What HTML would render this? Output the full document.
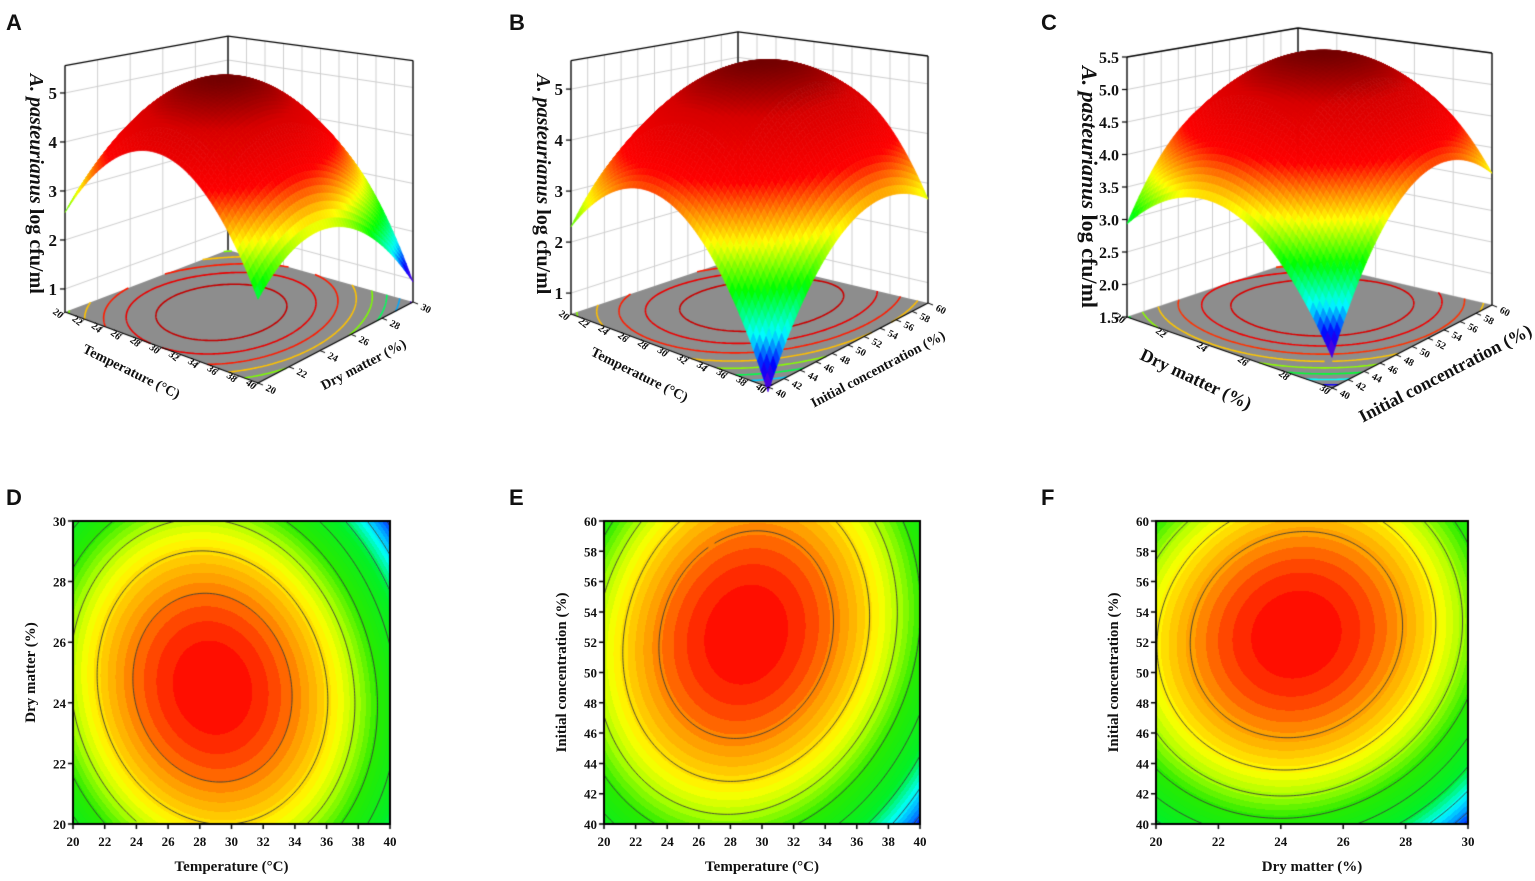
<!DOCTYPE html>
<html><head><meta charset="utf-8">
<style>
html,body{margin:0;padding:0;background:#fff;}
#wrap{position:relative;width:1535px;height:881px;overflow:hidden;}
canvas,svg{position:absolute;left:0;top:0;}
text{font-family:"Liberation Serif",serif;font-weight:bold;fill:#111;}
.lt{font-family:"Liberation Sans",sans-serif;font-size:22px;font-weight:bold;}
</style></head>
<body>
<div id="wrap">
<canvas id="cv" width="1535" height="881"></canvas>
<svg id="sv" width="1535" height="881">
<text class="lt" x="6" y="30">A</text>
<text class="lt" x="509" y="30">B</text>
<text class="lt" x="1041" y="30">C</text>
<text class="lt" x="6" y="505">D</text>
<text class="lt" x="509" y="505">E</text>
<text class="lt" x="1041" y="505">F</text>
</svg>
</div>
<script>
// ---- data: quadratic response-surface coefficients [b0, bU, bV, bUV, bUU, bVV] (coded units -1..1)
const coefTempDry = [5.355, -0.51, -0.296, -0.3, -2.0, -1.3];
const coefTempInit = [5.39, -0.5, 0.69, 0.4, -2.0, -1.3];
const coefDryInit = [5.46, -0.29, 0.62, 0.2, -1.2, -1.2];
const tempTicks = [20,22,24,26,28,30,32,34,36,38,40];
const dryTicks = [20,22,24,26,28,30];
const initTicks = [40,42,44,46,48,50,52,54,56,58,60];
const zTicksA = [1,2,3,4,5];
const zTicksB = [1,2,3,4,5];
const zTicksC = [1.5,2.0,2.5,3.0,3.5,4.0,4.5,5.0,5.5];
const levelsD = [4.9,4.35,3.8,3.25,2.7,2.15,1.6,1.05];
const levelsE = [4.9,4.3,3.7,3.1,2.5,1.9,1.3,0.7];
const levelsF = [5.0,4.6,4.2,3.8,3.4,3.0,2.6,2.2];

const cv=document.getElementById('cv'), ctx=cv.getContext('2d');
const sv=document.getElementById('sv'), NS='http://www.w3.org/2000/svg';
function f(c,u,v){return c[0]+c[1]*u+c[2]*v+c[3]*u*v+c[4]*u*u+c[5]*v*v;}
function mix(stops,t){t=Math.max(0,Math.min(1,t));for(let i=1;i<stops.length;i++){if(t<=stops[i][0]){const a=stops[i-1],b=stops[i],k=(t-a[0])/(b[0]-a[0]);return [0,1,2].map(j=>Math.round(a[1][j]+(b[1][j]-a[1][j])*k));}}return stops[stops.length-1][1];}
const cmap3=[[0,[110,0,210]],[0.08,[0,0,255]],[0.18,[0,255,255]],[0.32,[0,255,0]],[0.47,[255,255,0]],[0.56,[255,140,0]],[0.66,[255,0,0]],[0.86,[215,0,0]],[1,[115,0,0]]];
const cmap2=[[0,[0,30,255]],[0.06,[0,120,255]],[0.17,[0,255,255]],[0.3,[0,240,40]],[0.52,[40,235,0]],[0.63,[170,255,0]],[0.72,[255,255,0]],[0.86,[255,150,0]],[0.94,[255,60,0]],[1,[255,0,0]]];
const rgb=c=>'rgb('+c[0]+','+c[1]+','+c[2]+')';
function txt(x,y,s,size,name,opts){const t=document.createElementNS(NS,'text');


t.setAttribute('x',x);t.setAttribute('y',y);t.setAttribute('font-size',size);
if(opts&&opts.anchor)t.setAttribute('text-anchor',opts.anchor);
if(opts&&opts.rot!==undefined)t.setAttribute('transform','rotate('+opts.rot+' '+x+' '+y+')');
if(opts&&opts.html)t.innerHTML=s;else t.textContent=s;sv.appendChild(t);return t;}

function contour(fn,n,level,map,style,width){
 ctx.strokeStyle=style;ctx.lineWidth=width;ctx.beginPath();
 for(let i=0;i<n;i++)for(let j=0;j<n;j++){
  const a0=i/n,a1=(i+1)/n,b0=j/n,b1=(j+1)/n;
  const c=[[a0,b0,fn(a0,b0)],[a1,b0,fn(a1,b0)],[a1,b1,fn(a1,b1)],[a0,b1,fn(a0,b1)]];
  const pts=[];
  for(let k=0;k<4;k++){const p=c[k],q=c[(k+1)%4];if((p[2]-level)*(q[2]-level)<0){const t=(level-p[2])/(q[2]-p[2]);pts.push([p[0]+(q[0]-p[0])*t,p[1]+(q[1]-p[1])*t]);}}
  if(pts.length>=2){const A=map(pts[0][0],pts[0][1]),B=map(pts[1][0],pts[1][1]);ctx.moveTo(A[0],A[1]);ctx.lineTo(B[0],B[1]);}
 }
 ctx.stroke();
}

function draw3D(p){
 const fn=(a,b)=>f(p.coef,a*2-1,b*2-1);
 const bl=(a,b,k)=>(1-a)*(1-b)*p.c00[k]+a*(1-b)*p.c10[k]+(1-a)*b*p.c01[k]+a*b*p.c11[k];
 const sc=(a,b)=>(1-a)*(1-b)*p.s[0]+a*(1-b)*p.s[1]+(1-a)*b*p.s[2]+a*b*p.s[3];
 const P=(a,b,z)=>[bl(a,b,0),bl(a,b,1)-(z-p.zf)*sc(a,b)];
 const poly=(pts,fill,stroke,w)=>{ctx.beginPath();pts.forEach((q,i)=>i?ctx.lineTo(q[0],q[1]):ctx.moveTo(q[0],q[1]));ctx.closePath();if(fill){ctx.fillStyle=fill;ctx.fill();}if(stroke){ctx.strokeStyle=stroke;ctx.lineWidth=w;ctx.stroke();}};
 const line=(A,B,col,w)=>{ctx.beginPath();ctx.moveTo(A[0],A[1]);ctx.lineTo(B[0],B[1]);ctx.strokeStyle=col;ctx.lineWidth=w;ctx.stroke();};
 poly([P(0,0,p.zf),P(0,1,p.zf),P(0,1,p.zt),P(0,0,p.zt)],'#fff');
 poly([P(0,1,p.zf),P(1,1,p.zf),P(1,1,p.zt),P(0,1,p.zt)],'#fff');
 const uT=p.uTicks,vT=p.vTicks;
 vT.forEach((t,i)=>{const b=i/(vT.length-1);line(P(0,b,p.zf),P(0,b,p.zt),'#cfcfcf',1);});
 uT.forEach((t,i)=>{const a=i/(uT.length-1);line(P(a,1,p.zf),P(a,1,p.zt),'#cfcfcf',1);});
 p.zTicks.forEach(z=>{line(P(0,0,z),P(0,1,z),'#cfcfcf',1);line(P(0,1,z),P(1,1,z),'#cfcfcf',1);});
 poly([P(0,0,p.zf),P(1,0,p.zf),P(1,1,p.zf),P(0,1,p.zf)],'#8d8d8d');
 let zmin=1e9,zmax=-1e9;const N=56;
 for(let i=0;i<=N;i++)for(let j=0;j<=N;j++){const z=fn(i/N,j/N);zmin=Math.min(zmin,z);zmax=Math.max(zmax,z);}
 p.levels.forEach(L=>contour(fn,90,L,(a,b)=>P(a,b,p.zf),rgb(mix(cmap3,(L-zmin)/(zmax-zmin))),1.6));
 const k='#000';
 line(P(0,0,p.zf),P(0,0,p.zt),k,1.3);line(P(0,1,p.zf),P(0,1,p.zt),k,1.3);line(P(1,1,p.zf),P(1,1,p.zt),k,1.3);
 line(P(0,0,p.zt),P(0,1,p.zt),k,1.3);line(P(0,1,p.zt),P(1,1,p.zt),k,1.3);
 line(P(0,0,p.zf),P(1,0,p.zf),k,1.3);line(P(1,0,p.zf),P(1,1,p.zf),k,1.3);
 const quads=[];
 for(let i=0;i<N;i++)for(let j=0;j<N;j++){const a0=i/N,a1=(i+1)/N,b0=j/N,b1=(j+1)/N;
  const zs=[fn(a0,b0),fn(a1,b0),fn(a1,b1),fn(a0,b1)];
  quads.push({d:bl((a0+a1)/2,(b0+b1)/2,1),pts:[P(a0,b0,zs[0]),P(a1,b0,zs[1]),P(a1,b1,zs[2]),P(a0,b1,zs[3])],z:(zs[0]+zs[1]+zs[2]+zs[3])/4});}
 quads.sort((x,y)=>x.d-y.d);
 quads.forEach(q=>{const c=rgb(mix(cmap3,(q.z-zmin)/(zmax-zmin)));poly(q.pts,c,c,0.7);});
 p.zTicks.forEach(z=>{const q=P(0,0,z);line(q,[q[0]-5,q[1]],k,1.2);
  txt(q[0]-8,q[1]+6,p.zFmt(z),p.zSize,'z-tick-label',{anchor:'end'});});
 const ang=(A,B)=>Math.atan2(B[1]-A[1],B[0]-A[0])*180/Math.PI;
 const angU=ang(P(0,0,p.zf),P(1,0,p.zf)),angV=ang(P(1,0,p.zf),P(1,1,p.zf));
 uT.forEach((t,i)=>{const q=P(i/(uT.length-1),0,p.zf);line(q,[q[0]-4,q[1]+4],k,1);
  txt(q[0]-5,q[1]+7,String(t),p.fs,'x-tick-label',{anchor:'end',rot:angU+18});});
 vT.forEach((t,i)=>{const q=P(1,i/(vT.length-1),p.zf);line(q,[q[0]+5,q[1]+2],k,1);
  txt(q[0]+7,q[1]+7,String(t),p.fs,'y-tick-label',{anchor:'start',rot:angV+55});});
 const mU=P(0.5,0,p.zf),mV=P(1,0.5,p.zf);
 txt(mU[0]+p.tU[0],mU[1]+p.tU[1],p.uTitle,p.tfs,'x-axis-title',{anchor:'middle',rot:angU+6});
 txt(mV[0]+p.tV[0],mV[1]+p.tV[1],p.vTitle,p.tfs,'y-axis-title',{anchor:'middle',rot:angV});
 const zm=P(0,0,(p.zf+p.zt)/2);
 txt(p.zTitleX,zm[1]+p.zTitleDy,'<tspan font-style="italic">A. pasteurianus</tspan> log cfu/ml',p.zTitleSize,'z-axis-title',{anchor:'middle',rot:90,html:true});
}
const fmt0=z=>String(z), fmt1=z=>z.toFixed(1);
draw3D({coef:coefTempDry,c00:[65,312],c10:[258,383],c01:[228,250],c11:[413,302],s:[49,52,42.5,48],zf:0.53,zt:5.56,
 uTicks:tempTicks,vTicks:dryTicks,zTicks:zTicksA,zFmt:fmt0,zSize:17,levels:levelsD,fs:10,tfs:14,
 uTitle:'Temperature (°C)',vTitle:'Dry matter (%)',tU:[-32,28],tV:[30,26],zTitleX:30,zTitleDy:-5,zTitleSize:20});
draw3D({coef:coefTempInit,c00:[571,314],c10:[768,387],c01:[738,258],c11:[928,303],s:[51,54,45.5,49.7],zf:0.59,zt:5.56,
 uTicks:tempTicks,vTicks:initTicks,zTicks:zTicksB,zFmt:fmt0,zSize:17,levels:levelsE,fs:10,tfs:14,
 uTitle:'Temperature (°C)',vTitle:'Initial concentration (%)',tU:[-32,28],tV:[32,28],zTitleX:537,zTitleDy:-3,zTitleSize:20});
draw3D({coef:coefDryInit,c00:[1127,317],c10:[1332,388],c01:[1298,260],c11:[1492,305],s:[65,68,58,63],zf:1.5,zt:5.5,
 uTicks:dryTicks,vTicks:initTicks,zTicks:zTicksC,zFmt:fmt1,zSize:16,levels:levelsF,fs:10,tfs:18,
 uTitle:'Dry matter (%)',vTitle:'Initial concentration (%)',tU:[-36,32],tV:[36,32],zTitleX:1082,zTitleDy:0,zTitleSize:22});

function draw2D(p){
 const W=p.x1-p.x0,H=p.y1-p.y0;
 const fn=(a,b)=>f(p.coef,a*2-1,b*2-1);
 let zmin=1e9,zmax=-1e9;
 for(let i=0;i<=40;i++)for(let j=0;j<=40;j++){const z=fn(i/40,j/40);zmin=Math.min(zmin,z);zmax=Math.max(zmax,z);}
 const img=ctx.createImageData(W,H),nb=36;
 for(let y=0;y<H;y++)for(let x=0;x<W;x++){const z=fn((x+0.5)/W,1-(y+0.5)/H);
  let t=(z-zmin)/(zmax-zmin);t=(Math.min(nb-1,Math.floor(t*nb))+0.5)/nb;const c=mix(cmap2,t);
  const o=(y*W+x)*4;img.data[o]=c[0];img.data[o+1]=c[1];img.data[o+2]=c[2];img.data[o+3]=255;}
 ctx.putImageData(img,p.x0,p.y0);
 ctx.save();ctx.beginPath();ctx.rect(p.x0,p.y0,W,H);ctx.clip();
 p.levels.forEach(L=>contour(fn,100,L,(a,b)=>[p.x0+a*W,p.y1-b*H],'#3a3a3a',0.9));
 ctx.restore();
 ctx.strokeStyle='#000';ctx.lineWidth=2;ctx.strokeRect(p.x0,p.y0,W,H);
 ctx.lineWidth=1.5;ctx.beginPath();
 p.xt.forEach((t,i)=>{const x=p.x0+i/(p.xt.length-1)*W;ctx.moveTo(x,p.y1);ctx.lineTo(x,p.y1+5);
  txt(x,p.y1+22,String(t),13,'x-tick-label',{anchor:'middle'});});
 p.yt.forEach((t,i)=>{const y=p.y1-i/(p.yt.length-1)*H;ctx.moveTo(p.x0,y);ctx.lineTo(p.x0-5,y);
  txt(p.x0-7,y+5,String(t),13,'y-tick-label',{anchor:'end'});});
 ctx.stroke();
 txt((p.x0+p.x1)/2,p.y1+47,p.xTitle,15,'x-axis-title',{anchor:'middle'});
 const yc=(p.y0+p.y1)/2;
 txt(p.x0-38,yc,p.yTitle,15,'y-axis-title',{anchor:'middle',rot:-90});
}
draw2D({coef:coefTempDry,x0:73,x1:390,y0:521,y1:824,xt:tempTicks,yt:dryTicks,levels:levelsD,xTitle:'Temperature (°C)',yTitle:'Dry matter (%)'});
draw2D({coef:coefTempInit,x0:604,x1:920,y0:521,y1:824,xt:tempTicks,yt:initTicks,levels:levelsE,xTitle:'Temperature (°C)',yTitle:'Initial concentration (%)'});
draw2D({coef:coefDryInit,x0:1156,x1:1468,y0:521,y1:824,xt:dryTicks,yt:initTicks,levels:levelsF,xTitle:'Dry matter (%)',yTitle:'Initial concentration (%)'});
</script>
</body></html>
